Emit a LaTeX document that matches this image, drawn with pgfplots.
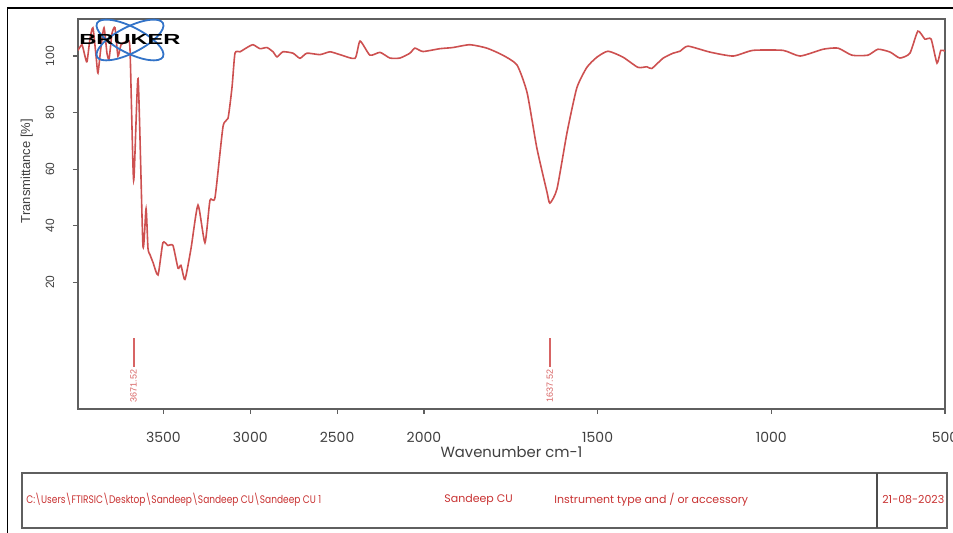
\documentclass[border=0pt]{standalone}
\usepackage{pgfplots}
\pgfplotsset{compat=1.18}
\usepackage{pgfplotstable}
\usepackage{fontspec}
\setmainfont{Liberation Sans}
\newfontfamily\pop{Poppins}
\definecolor{spec}{RGB}{205,80,80}
\definecolor{lab}{RGB}{215,100,100}
\definecolor{foot}{RGB}{200,50,50}
\definecolor{axgray}{RGB}{95,95,95}
\definecolor{logoblue}{RGB}{50,115,200}

\pgfplotstableread{
w T
3992 102
3969 104
3952 100
3940 98
3923 106
3906 110
3888 100
3877 94
3860 103
3842 110
3825 101
3813 99
3796 108
3779 110
3762 100
3744 104
3715 105
3693 103
3671.5 56
3646 92
3618 33
3600 46
3589 32
3577 29.7
3560 27
3531 22.6
3503 34
3474 33
3445 33
3416 25
3399 26
3376 21
3341 32
3301 47.3
3261 34
3232 49
3203 50
3157 75
3128 78
3105 89
3088 101
3059 101.5
3019 103
2984 104
2944 102.6
2904 103
2869 101.5
2846 99.7
2812 101.5
2754 101
2714 99.2
2674 101
2599 100.5
2541 101.5
2484 100.5
2397 99.2
2368 105.3
2311 100.3
2253 101.3
2196 99.3
2138 99.3
2081 101
2052 102.8
2006 101.6
1954 102.6
1917 103
1868 104
1819 102.8
1773 100.3
1732 96.8
1703 87
1675 67.5
1646 52
1637.5 48
1617 53
1588 73
1560 88.7
1531 96
1502 99.6
1470 101.7
1427 99.6
1384 96
1358 96.2
1344 95.6
1312 99.2
1283 101
1263 101.7
1240 103.5
1177 101.4
1110 100
1053 102
966 102
917 100
851 102.4
808 102.8
768 100.3
722 100.3
693 102.4
658 101.4
630 99.3
601 101
578 108.8
558 106
540 106
523 97.5
512 102
500 101.7
}\spectrum

\begin{document}
\begin{tikzpicture}
\useasboundingbox (0,0) rectangle (476.5pt,266.5pt);
\begin{scope}
\clip (0,0) rectangle (476.5pt,266.5pt);
\begin{axis}[
  at={(39pt,62pt)}, anchor=south west,
  scale only axis, width=433.5pt, height=195pt,
  x coord trafo/.code={\pgfmathparse{#1-(#1>2000)*(#1-2000)/2}},
  x dir=reverse,
  xmin=500, xmax=3992,
  ymin=-24.8, ymax=113.1,
  xtick={500,1000,1500,2000,2500,3000,3500},
  xticklabels={500,1000,1500,2000,2500,3000,3500},
  ytick={20,40,60,80,100},
  yticklabels={20,40,60,80,100},
  tick align=outside, tick pos=left,
  major tick length=2.5pt,
  axis line style={axgray, line width=0.7pt},
  tick style={axgray, line width=0.6pt},
  xticklabel style={font=\pop\fontsize{7}{8}\selectfont, text=black!75, anchor=center, yshift=-11.5pt},
  yticklabel style={font=\fontsize{6}{7}\selectfont, text=black!75, anchor=center, xshift=-11.5pt, rotate=90},
  xlabel={Wavenumber cm-1},
  xlabel style={font=\pop\fontsize{7.4}{8}\selectfont, text=black!75, at={(axis description cs:0.5,0)}, anchor=center, yshift=-21.5pt},
  ylabel={Transmittance [\%]},
  ylabel style={font=\fontsize{6.5}{7}\selectfont, text=black!75, at={(axis description cs:-0.059,0.61)}, anchor=center},
]
\addplot[spec, line width=0.8pt, smooth, tension=0.35] table[x=w, y=T] {\spectrum};
\addplot[lab, line width=0.9pt] coordinates {(3671.52,0.3) (3671.52,-9.9)}
  node[pos=1, anchor=east, rotate=90, inner sep=1pt, font=\fontsize{4.5}{5}\selectfont, text=lab] {3671.52};
\addplot[lab, line width=0.9pt] coordinates {(1637.52,0.3) (1637.52,-9.9)}
  node[pos=1, anchor=east, rotate=90, inner sep=1pt, font=\fontsize{4.5}{5}\selectfont, text=lab] {1637.52};
\end{axis}
% Bruker logo
\begin{scope}[shift={(65pt,246.5pt)}]
\draw[logoblue, line width=0.9pt] (0,0) ellipse [x radius=18.5pt, y radius=6.5pt, rotate=27];
\draw[logoblue, line width=0.9pt] (0,0) ellipse [x radius=18.5pt, y radius=6.5pt, rotate=-27];
\node[font=\bfseries\fontsize{7.3}{7}\selectfont, xscale=1.62, inner sep=0pt] at (0,0) {BRUKER};
\end{scope}
% frames
\draw[black, line width=0.9pt] (3.75pt,-2pt) -- (3.75pt,262.5pt) -- (480pt,262.5pt);
\draw[axgray, line width=0.7pt] (11pt,2.5pt) rectangle (473.5pt,30pt);
\draw[black!70, line width=0.8pt] (438.5pt,2.5pt) -- (438.5pt,30pt);
\begin{scope}[every node/.style={anchor=west, inner sep=0pt, text=foot, font=\pop\fontsize{5.5}{6}\selectfont}]
\node[xscale=0.82] at (13pt,16.5pt) {C:\textbackslash Users\textbackslash FTIRSIC\textbackslash Desktop\textbackslash Sandeep\textbackslash Sandeep CU\textbackslash Sandeep CU 1};
\node at (222pt,16.5pt) {Sandeep CU};
\node at (277pt,16.5pt) {Instrument type and / or accessory};
\node at (441pt,16.5pt) {21-08-2023};
\end{scope}
\end{scope}
\end{tikzpicture}
\end{document}
